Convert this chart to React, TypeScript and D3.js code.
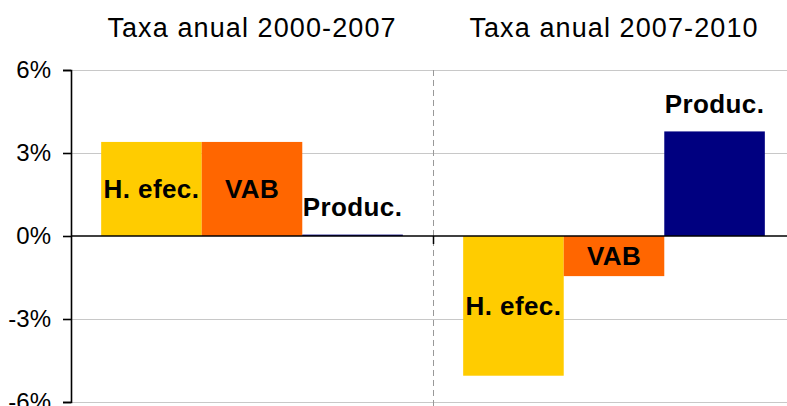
import React, { useEffect, useRef } from "react";
import * as d3 from "d3";

// periods (groups) and series
const periods = ["Taxa anual 2000-2007", "Taxa anual 2007-2010"];
const series = ["H. efec.", "VAB", "Produc."];
const seriesColors = ["#FFCC00", "#FF6600", "#000080"];
// label placement per series: inside bar centre, or above the bar end
const labelPlacement = ["center", "center", "above"];

const values2000_2007 = [3.4, 3.4, 0.05];
const values2007_2010 = [-5.05, -1.45, 3.78];

const yTicks = [-6, -3, 0, 3, 6];

const App = () => {
  const ref = useRef<SVGSVGElement>(null);

  useEffect(() => {
    const width = 787;
    const height = 406;
    const margin = { top: 70, right: -8, bottom: 4, left: 71 };

    const dataset = [values2000_2007, values2007_2010].map((vals, i) => ({
      period: periods[i],
      items: series.map((s, j) => ({ key: s, value: vals[j], idx: j })),
    }));

    const svg = d3.select(ref.current);
    svg.selectAll("*").remove();
    svg.attr("width", width).attr("height", height);

    const x0 = d3
      .scaleBand()
      .domain(periods)
      .range([margin.left, width - margin.right])
      .paddingInner(0)
      .paddingOuter(0);

    const x1 = d3
      .scaleBand()
      .domain(series)
      .range([0, x0.bandwidth()])
      .paddingInner(0)
      .paddingOuter(0.3);

    const y = d3
      .scaleLinear()
      .domain([-6, 6])
      .range([height - margin.bottom, margin.top]);

    const font = "'Liberation Sans', Arial, sans-serif";

    // gridlines
    svg
      .append("g")
      .selectAll("line")
      .data(yTicks.filter((t) => t !== 0))
      .join("line")
      .attr("x1", margin.left)
      .attr("x2", width - margin.right)
      .attr("y1", (d) => Math.round(y(d)) + 0.5)
      .attr("y2", (d) => Math.round(y(d)) + 0.5)
      .attr("stroke", "#c8c8c8")
      .attr("stroke-width", 1);

    // dashed divider between periods
    periods.slice(1).forEach((p) => {
      const xx = Math.round(x0(p)!) + 0.5;
      svg
        .append("line")
        .attr("x1", xx)
        .attr("x2", xx)
        .attr("y1", margin.top)
        .attr("y2", height)
        .attr("stroke", "#999")
        .attr("stroke-width", 1)
        .attr("stroke-dasharray", "6,4");
    });

    // bars
    const groups = svg
      .append("g")
      .selectAll("g")
      .data(dataset)
      .join("g")
      .attr("transform", (d) => `translate(${x0(d.period)},0)`);

    groups
      .selectAll("rect")
      .data((d) => d.items)
      .join("rect")
      .attr("x", (d) => x1(d.key)!)
      .attr("width", x1.bandwidth())
      .attr("y", (d) => y(Math.max(0, d.value)))
      .attr("height", (d) => Math.abs(y(d.value) - y(0)))
      .attr("fill", (d) => seriesColors[d.idx]);

    // bar labels
    groups
      .selectAll("text")
      .data((d) => d.items)
      .join("text")
      .attr("x", (d) => x1(d.key)! + x1.bandwidth() / 2)
      .attr("y", (d) =>
        labelPlacement[d.idx] === "above"
          ? y(d.value) - 28
          : (y(d.value) + y(0)) / 2
      )
      .attr("dy", "0.36em")
      .attr("text-anchor", "middle")
      .attr("font-family", font)
      .attr("font-weight", "bold")
      .attr("font-size", 26)
      .attr("letter-spacing", 0.4)
      .attr("fill", "#000")
      .text((d) => d.key);

    // zero line
    svg
      .append("line")
      .attr("x1", margin.left)
      .attr("x2", width - margin.right)
      .attr("y1", y(0))
      .attr("y2", y(0))
      .attr("stroke", "#000")
      .attr("stroke-width", 1.5);

    // category boundary ticks on the zero line
    svg
      .append("g")
      .selectAll("line")
      .data(periods.slice(1))
      .join("line")
      .attr("x1", (d) => Math.round(x0(d)!) + 0.5)
      .attr("x2", (d) => Math.round(x0(d)!) + 0.5)
      .attr("y1", y(0))
      .attr("y2", y(0) + 8)
      .attr("stroke", "#000")
      .attr("stroke-width", 1.5);

    // y axis
    const yAxis = d3
      .axisLeft(y)
      .tickValues(yTicks)
      .tickSize(8)
      .tickPadding(12)
      .tickFormat((d) => `${d}%`);

    svg
      .append("g")
      .attr("transform", `translate(${margin.left},0)`)
      .call(yAxis)
      .call((g) => g.select(".domain").attr("stroke-width", 1.6))
      .call((g) => g.selectAll(".tick line").attr("stroke-width", 1.6))
      .call((g) =>
        g
          .selectAll(".tick text")
          .attr("font-family", font)
          .attr("font-size", 24)
          .attr("fill", "#000")
      );

    // period titles
    svg
      .append("g")
      .selectAll("text")
      .data(periods)
      .join("text")
      .attr("x", (d) => x0(d)! + x0.bandwidth() / 2)
      .attr("y", 37)
      .attr("text-anchor", "middle")
      .attr("font-family", font)
      .attr("font-size", 27)
      .attr("letter-spacing", 1.1)
      .attr("fill", "#000")
      .text((d) => d);
  }, []);

  return (
    <svg
      ref={ref}
      style={{ position: "absolute", left: 0, top: 0, background: "#fff" }}
    ></svg>
  );
};

export default App;
